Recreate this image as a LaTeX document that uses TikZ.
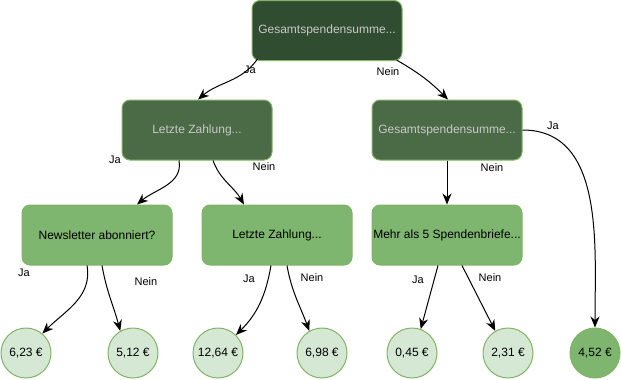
\documentclass[tikz,border=0pt]{standalone}
\usepackage{fontspec}
\setmainfont{Liberation Sans}
\usepackage{xcolor}
\usetikzlibrary{arrows.meta,positioning}

\definecolor{rootfill}{HTML}{314D31}
\definecolor{midfill}{HTML}{4B6B46}
\definecolor{lowfill}{HTML}{7EB56F}
\definecolor{leaffill}{HTML}{D5E8D4}
\definecolor{edgegreen}{HTML}{82B366}
\definecolor{paletext}{HTML}{C8C8C8}

\begin{document}
\begin{tikzpicture}[
    x=1pt, y=-1pt,
    box/.style={draw=edgegreen, line width=1pt, rounded corners=8pt, align=center, minimum width=150pt, minimum height=60pt, inner sep=0pt, font=\fontsize{12}{14}\selectfont},
    rootbox/.style={box, fill=rootfill, text=paletext},
    midbox/.style={box, fill=midfill, text=paletext},
    lowbox/.style={box, fill=lowfill},
    leaf/.style={circle, draw=edgegreen, line width=1pt, fill=leaffill, minimum size=50pt, inner sep=0pt, font=\fontsize{12}{14}\selectfont},
    darkleaf/.style={leaf, fill=lowfill},
    lbl/.style={inner sep=0pt, font=\fontsize{11}{13}\selectfont},
    arrow/.style={-{Stealth[length=11pt, width=9pt, inset=3.5pt]}, line width=1pt}
]
\useasboundingbox (0,0) rectangle (621,380);
\node[rootbox] (root) at (327,30.5) {Gesamtspendensumme...};
\node[midbox] (zahlung) at (197,130) {Letzte Zahlung...};
\node[midbox] (summe) at (447,130) {Gesamtspendensumme...};
\node[lowbox] (news) at (97,235) {Newsletter abonniert?};
\node[lowbox] (zahlungb) at (277,235) {Letzte Zahlung...};
\node[lowbox] (briefe) at (447,235) {Mehr als 5 Spendenbriefe...};
\node[leaf] (wa) at (26,353) {6,23 €};
\node[leaf] (wb) at (133,353) {5,12 €};
\node[leaf] (wc) at (218,353) {12,64 €};
\node[leaf] (wd) at (322,353) {6,98 €};
\node[leaf] (we) at (412,353) {0,45 €};
\node[leaf] (wf) at (508,353) {2,31 €};
\node[darkleaf] (wg) at (595,353) {4,52 €};
\draw[arrow] ([xshift=6pt, yshift=2pt]root.south west) to[out=-125, in=40] ([xshift=1pt]zahlung.north);
\draw[arrow] ([xshift=-6pt, yshift=1pt]root.south east) to[out=-30, in=135] ([xshift=1pt]summe.north);
\draw[arrow] ([xshift=-18pt]zahlung.south) to[out=-80, in=40] ([xshift=40pt]news.north);
\draw[arrow] ([xshift=16pt]zahlung.south) to[out=-70, in=120] ([xshift=-33pt]zahlungb.north);
\draw[arrow] (summe.south) -- (briefe.north);
\draw[arrow] (summe.east) to[out=0, in=90] (wg.north);
\draw[arrow] ([xshift=-10pt]news.south) to[out=-80, in=45] (wa.50);
\draw[arrow] ([xshift=5pt]news.south) to[out=-80, in=105] (wb.120);
\draw[arrow] ([xshift=-6pt]zahlungb.south) to[out=-100, in=45] (wc.45);
\draw[arrow] ([xshift=10pt]zahlungb.south) to[out=-80, in=110] (wd.120);
\draw[arrow] ([xshift=-9pt]briefe.south) -- (we.70);
\draw[arrow] ([xshift=15pt]briefe.south) -- (wf.120);
% edge labels
\node[lbl] (ja1) at (250,70) {Ja};
\node[lbl] (nein1) at (388,72) {Nein};
\node[lbl] (ja2) at (115,160) {Ja};
\node[lbl] (nein2) at (264,167) {Nein};
\node[lbl] (nein3) at (492,168) {Nein};
\node[lbl] (ja3) at (553,126) {Ja};
\node[lbl] (ja4) at (24,273) {Ja};
\node[lbl] (nein4) at (146,282) {Nein};
\node[lbl] (ja5) at (249,279) {Ja};
\node[lbl] (nein5) at (312,278) {Nein};
\node[lbl] (ja6) at (418,280) {Ja};
\node[lbl] (nein6) at (490,278) {Nein};
\end{tikzpicture}
\end{document}
